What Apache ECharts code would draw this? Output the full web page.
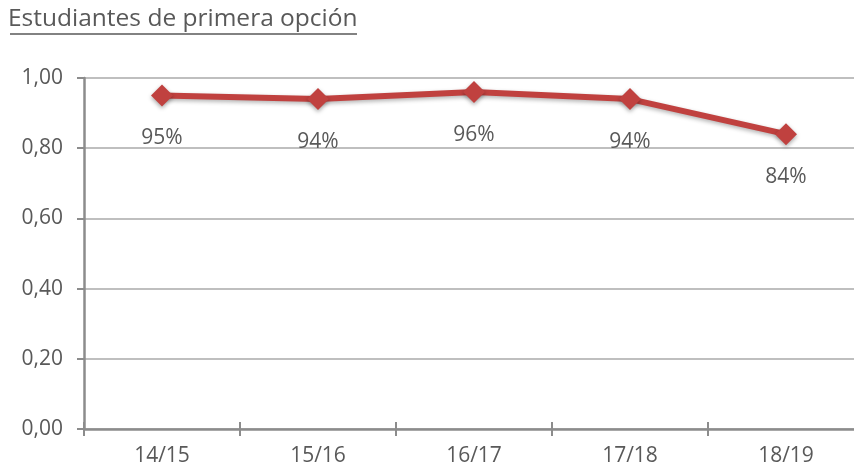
<!DOCTYPE html>
<html>
<head>
<meta charset="utf-8">
<script src="https://cdn.jsdelivr.net/npm/echarts@6/dist/echarts.min.js"></script>
<style>
  html, body { margin: 0; padding: 0; background: #ffffff; overflow: hidden; }
  #chart { width: 872px; height: 472px; }
</style>
</head>
<body>
<div id="chart"></div>
<script>
// Share of students enrolled in their first choice, by academic year
const titleText = 'Estudiantes de primera opción';
const years = ['14/15', '15/16', '16/17', '17/18', '18/19'];
const shares = [0.95, 0.94, 0.96, 0.94, 0.84];
const yTicks = { min: 0, max: 1, step: 0.2 };

const textGray = '#595959';
const font = '"Open Sans", "Noto Sans", sans-serif';

const chart = echarts.init(document.getElementById('chart'), null, { renderer: 'canvas' });

chart.setOption({
  animation: false,
  backgroundColor: '#ffffff',
  // the plot runs a little past the right edge of the visible page
  grid: { left: 84, top: 78, height: 351, width: 780, containLabel: false },
  graphic: [
    {
      type: 'text', left: 8, top: 7,
      style: { text: titleText, fill: textGray, font: '24.5px ' + font }
    },
    {
      type: 'line',
      shape: { x1: 10, y1: 34, x2: 357, y2: 34 },
      style: { stroke: textGray, lineWidth: 1.5 }
    }
  ],
  xAxis: [
    {
      type: 'category',
      data: years,
      boundaryGap: true,
      axisLine: { lineStyle: { color: '#8c8c8c', width: 2.5 } },
      axisTick: { show: true, length: 7, lineStyle: { color: '#8c8c8c', width: 2 } },
      axisLabel: { color: textGray, fontSize: 21, fontFamily: font, margin: 17 }
    },
    {
      // inner half of the crossing tick marks
      type: 'category',
      data: years,
      position: 'bottom',
      boundaryGap: true,
      axisLine: { show: false },
      axisTick: { show: true, inside: true, length: 7, lineStyle: { color: '#8c8c8c', width: 2 } },
      axisLabel: { show: false }
    }
  ],
  yAxis: {
    type: 'value',
    min: yTicks.min,
    max: yTicks.max,
    interval: yTicks.step,
    axisLine: { show: true, lineStyle: { color: '#8c8c8c', width: 2.5 } },
    axisTick: { show: true, length: 7, lineStyle: { color: '#8c8c8c', width: 2 } },
    axisLabel: {
      color: textGray, fontSize: 21, fontFamily: font, margin: 21,
      formatter: v => v.toFixed(2).replace('.', ',')
    },
    splitLine: { lineStyle: { color: '#bfbfbf', width: 2 } }
  },
  series: [{
    type: 'line',
    data: shares,
    symbol: 'diamond',
    symbolSize: 22,
    lineStyle: {
      color: '#c0413f', width: 6,
      shadowColor: 'rgba(0,0,0,0.3)', shadowBlur: 4, shadowOffsetY: 2
    },
    itemStyle: {
      color: '#c0413f',
      shadowColor: 'rgba(0,0,0,0.35)', shadowBlur: 4, shadowOffsetY: 2
    },
    label: {
      show: true,
      position: 'bottom',
      distance: 21,
      color: textGray,
      fontSize: 21,
      fontFamily: font,
      formatter: p => Math.round(p.value * 100) + '%'
    }
  }]
});
</script>
</body>
</html>
